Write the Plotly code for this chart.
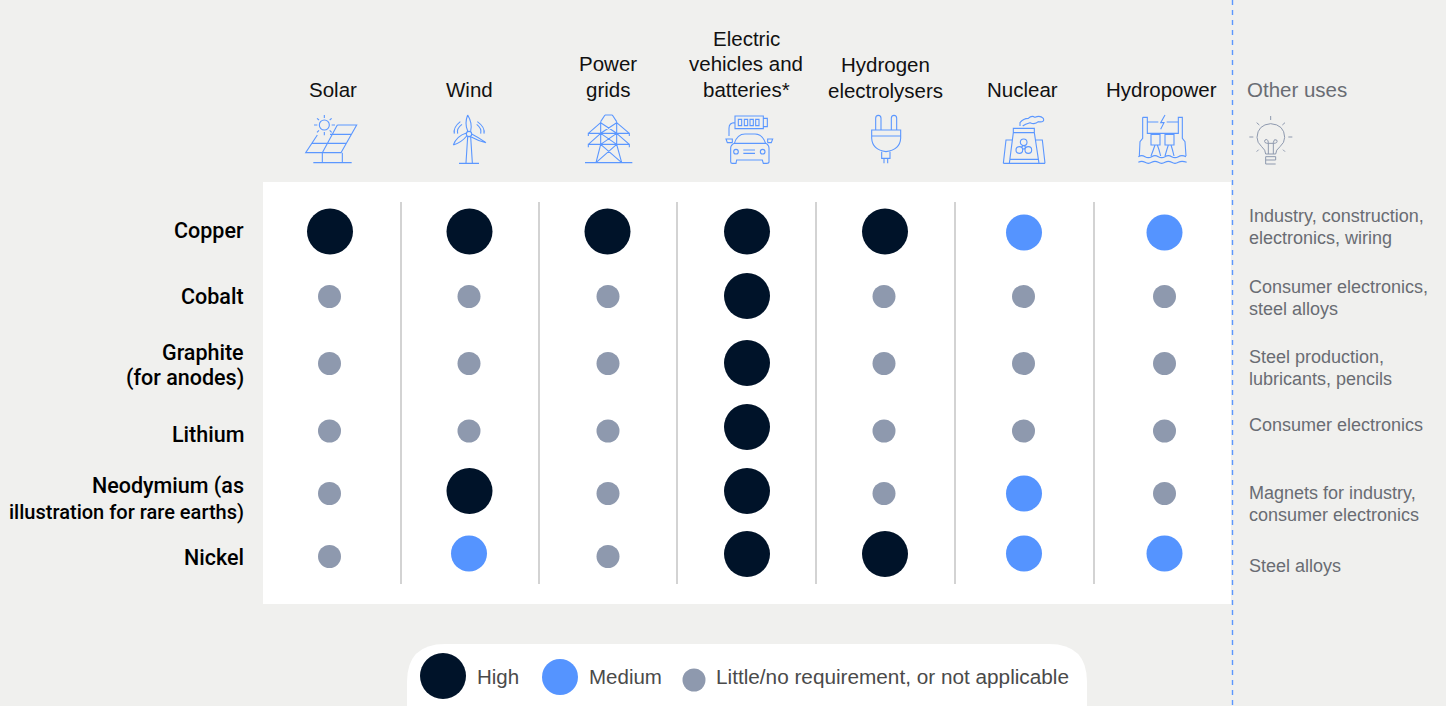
import re
import plotly.graph_objects as go

technologies = ["Solar", "Wind", "Power<br>grids", "Electric<br>vehicles and<br>batteries*",
                "Hydrogen<br>electrolysers", "Nuclear", "Hydropower"]
minerals = ["Copper", "Cobalt", "Graphite<br>(for anodes)", "Lithium",
            "Neodymium (as<br>illustration for rare earths)", "Nickel"]
other_uses = ["Industry, construction,<br>electronics, wiring",
              "Consumer electronics,<br>steel alloys",
              "Steel production,<br>lubricants, pencils",
              "Consumer electronics",
              "Magnets for industry,<br>consumer electronics",
              "Steel alloys"]
# 2 = High, 1 = Medium, 0 = Little/no requirement
copper = [2, 2, 2, 2, 2, 1, 1]
cobalt = [0, 0, 0, 2, 0, 0, 0]
graphite = [0, 0, 0, 2, 0, 0, 0]
lithium = [0, 0, 0, 2, 0, 0, 0]
neodymium = [0, 2, 0, 2, 0, 1, 0]
nickel = [0, 1, 0, 2, 2, 1, 1]
requirements = [copper, cobalt, graphite, lithium, neodymium, nickel]
level_names = ["Little/no requirement, or not applicable", "Medium", "High"]

# layout (pixel-space axes): column and row centres differ slightly per level in the source
W, H = 1446, 706
COL_X = {0: [329.5, 469, 608, 747, 884, 1023.5, 1164.5],
         1: [330, 469, 608, 747, 885, 1024, 1164.5],
         2: [330, 469.5, 607.5, 747, 885, 1024, 1164]}
ROW_Y = {0: [232, 296.5, 363.5, 431, 493.5, 556.5],
         1: [232.5, 296, 363, 429, 493.5, 553.5],
         2: [231.5, 296, 363, 427, 491, 554]}
HEAD_X = [333, 469, 608, 746, 885, 1022, 1161]
HEAD_LAST_Y = [89, 89, 89, 89, 90, 89, 89]
LABEL_Y = [230, 296, 352, 434, 486, 557]
USE_Y = [215.5, 286.5, 356.5, 424.5, 492.5, 565.5]
SEPARATORS = [401, 539, 677, 816, 955, 1094]
LEVEL_SIZE = {0: 23, 1: 36, 2: 46}
LEVEL_COLOR = {0: "#8E99AE", 1: "#5594FF", 2: "#001329"}
BG, BLUE, GREY = "#F0F0EE", "#5B97FF", "#8E99AE"
FONT = "Liberation Sans"
SOFT = "#696C73"

fig = go.Figure()
shapes, notes = [], []


def rect(x0, y0, x1, y1, fill):
    shapes.append(dict(type="rect", x0=x0, y0=y0, x1=x1, y1=y1, fillcolor=fill,
                       line=dict(width=0), layer="below"))


def text(x, y, s, size, color, anchor="center", weight=400, family=FONT):
    notes.append(dict(x=x, y=y, text=s, showarrow=False, xanchor=anchor, yanchor="middle",
                      font=dict(family=family, size=size, color=color, weight=weight)))


def circ(cx, cy, r):
    k = 0.5523 * r
    return (f"M{cx-r} {cy} C{cx-r} {cy-k} {cx-k} {cy-r} {cx} {cy-r} "
            f"C{cx+k} {cy-r} {cx+r} {cy-k} {cx+r} {cy} "
            f"C{cx+r} {cy+k} {cx+k} {cy+r} {cx} {cy+r} "
            f"C{cx-k} {cy+r} {cx-r} {cy+k} {cx-r} {cy} Z ")


def icon(ox, oy, d, color=BLUE, width=1.1):
    """d is drawn at 3x scale relative to origin (ox, oy)."""
    nums = iter(range(10**6))
    def conv(m):
        i = next(nums)
        v = float(m.group(0)) / 3
        return f"{v + (ox if i % 2 == 0 else oy):.2f}"
    path = re.sub(r"-?\d+\.?\d*", conv, d)
    shapes.append(dict(type="path", path=path, line=dict(color=color, width=width),
                       fillcolor="rgba(0,0,0,0)", layer="above"))


rect(263, 182, 1231, 604, "#FFFFFF")
shapes.append(dict(type="path", layer="below", fillcolor="#FFFFFF", line=dict(width=0),
                   path="M445 644 L1049 644 Q1087 644 1087 682 L1087 720 L407 720 L407 682 Q407 644 445 644 Z"))
for x in SEPARATORS:
    shapes.append(dict(type="line", x0=x, x1=x, y0=202, y1=584, layer="below",
                       line=dict(color="#C4C4C4", width=1.5)))
shapes.append(dict(type="line", x0=1232.5, x1=1232.5, y0=0, y1=706, layer="above",
                   line=dict(color=BLUE, width=1.4, dash="5px,5px")))

# icons
icon(280, 100, circ(133, 75, 15)
     + "M133 45 L133 54 M133 96 L133 106 M102 75 L112 75 M155 75 L165 75 M111 55 L117 60 M155 55 L149 60 "
       "M111 97 L117 91 M155 97 L149 91 "
       "M172 75 L230 75 L183 158 L77 158 L112 105 M172 75 L127 158 M150 103 L213 103 M95 130 L198 130 "
       "M127 158 L127 188 M187 158 L187 188 M100 188 L215 188")
icon(280, 100, circ(567, 102, 8)
     + "M563 110 L558 188 M572 110 L577 188 M537 190 L597 190 "
       "M563 45 Q578 70 572 93 M563 93 Q553 70 563 45 "
       "M520 135 Q530 108 559 99 M560 108 Q545 127 520 135 "
       "M618 128 Q595 112 575 102 M574 111 Q595 123 618 128 "
       "M523 101 Q519 82 541 65 M533 101 Q529 85 546 73 M612 101 Q616 82 592 65 M602 101 Q606 85 590 73")
icon(280, 100, "M915 188 L1057 188 M975 45 L997 45 M962 65 L975 45 M1010 65 L997 45 "
     "M962 65 L962 133 L948 188 M1010 65 L1010 133 L1025 188 M948 188 L1025 188 "
     "M925 108 L925 100 L1048 100 L1048 108 M925 100 L962 68 M1048 100 L1010 68 "
     "M925 142 L925 133 L1048 133 L1048 142 M925 133 L962 100 M1048 133 L1010 100 "
     "M962 68 L1010 100 M1010 68 L962 100 M962 100 L1010 133 M1010 100 L962 133 "
     "M962 133 L1025 188 M1010 133 L948 188")
icon(700, 100, "M105 48 L190 48 L190 86 L105 86 Z M190 55 L202 55 L202 80 L190 80 "
     "M115 58 L125 58 L125 77 L115 77 Z M133 58 L143 58 L143 77 L133 77 Z "
     "M150 58 L160 58 L160 77 L150 77 Z M167 58 L177 58 L177 77 L167 77 Z "
     "M87 108 L87 85 Q87 68 105 68 "
     "M103 130 Q112 102 135 102 L165 102 Q187 102 197 130 "
     "M92 145 Q92 135 103 130 L197 130 Q207 135 207 145 L207 185 Q207 190 200 190 L190 190 L187 180 "
     "L110 180 L108 190 L97 190 Q92 190 92 185 Z "
     "M97 128 L97 117 L78 117 L82 128 L97 128 M203 128 L203 117 L218 117 L214 128 L203 128 "
     "M130 150 L165 150 M130 160 L165 160 " + circ(108, 155, 7) + circ(188, 155, 7))
icon(700, 100, "M527 90 L527 55 Q527 46 535 46 Q543 46 543 55 L543 90 "
     "M574 90 L574 55 Q574 46 582 46 Q590 46 590 55 L590 90 "
     "M515 90 L602 90 L602 115 Q600 150 558 155 Q517 150 515 115 Z M515 108 L602 108 "
     "M545 155 L545 175 L570 175 L570 155 M552 175 L552 190 M563 175 L563 190")
icon(700, 100, "M940 85 L1003 85 L1003 98 L940 98 Z M940 98 L928 190 M1003 98 L1017 190 "
     "M910 190 L1035 190 M910 190 L918 120 L938 120 M1035 190 L1027 120 L1007 120 M928 178 L1017 178 "
     + circ(971, 127, 10) + circ(958, 150, 10) + circ(985, 150, 10) + circ(971, 142, 5)
     + "M960 78 L960 68 Q970 55 985 55 Q995 45 1005 52 Q1020 45 1030 55 Q1035 68 1015 65 "
       "Q1005 75 990 68 Q975 72 968 78")
icon(1100, 100, "M128 52 L142 52 L142 100 L235 100 L235 52 L247 52 L247 115 L255 125 L258 168 "
     "M128 52 L128 115 L120 125 L118 168 M142 66 L175 66 M200 66 L235 66 "
     "M195 45 L182 68 L192 68 L182 88 "
     "M153 103 L180 103 L180 135 L153 135 Z M195 103 L222 103 L222 135 L195 135 Z "
     "M165 135 Q160 150 153 168 M172 135 Q178 150 182 168 M205 135 Q200 150 195 168 M213 135 Q218 150 222 168 "
     "M115 170 Q125 164 135 170 Q145 176 155 170 Q165 164 175 170 Q185 176 195 170 Q205 164 215 170 "
     "Q225 176 235 170 Q245 164 258 170 "
     "M115 187 Q125 181 135 187 Q145 193 155 187 Q165 181 175 187 Q185 193 195 187 Q205 181 215 187 "
     "Q225 193 235 187 Q245 181 260 187")
icon(1100, 100, "M497 162 Q497 150 485 140 Q471 128 471 112 Q473 74 512 71 Q553 74 554 112 "
     "Q554 128 540 140 Q527 150 527 162 L497 162 "
     "M497 180 L527 180 M497 192 L527 192 M497 170 L527 170 L527 180 M497 170 L497 192 "
     "M505 162 L505 127 Q503 115 495 120 Q490 130 505 130 L520 130 Q535 130 530 120 Q522 115 520 127 L520 162 "
     "M512 48 L512 60 M470 68 L478 75 M555 68 L547 75 M448 111 L460 111 M565 111 L577 111 "
     "M470 155 L476 149 M555 155 L549 149", color=GREY, width=1)

# circles
for level in [0, 1, 2]:
    xs, ys = [], []
    for r, row in enumerate(requirements):
        for c, v in enumerate(row):
            if v == level:
                xs.append(COL_X[level][c])
                ys.append(ROW_Y[level][r])
    fig.add_trace(go.Scatter(x=xs, y=ys, mode="markers", name=level_names[level], showlegend=False,
                             marker=dict(size=LEVEL_SIZE[level], color=LEVEL_COLOR[level], line=dict(width=0))))
# legend key
for level, x, y in [(2, 443, 676), (1, 560, 677), (0, 694, 680)]:
    fig.add_trace(go.Scatter(x=[x], y=[y], mode="markers", showlegend=False, hoverinfo="skip",
                             marker=dict(size=LEVEL_SIZE[level], color=LEVEL_COLOR[level], line=dict(width=0))))
for x, level, size in [(475, 2, 20.5), (587, 1, 20.5), (714, 0, 20.75)]:
    text(x, 676, level_names[level], size, "#4A4A4A", "left")

# text
for i, t in enumerate(technologies):
    lines = t.split("<br>")
    for j, s in enumerate(lines):
        text(HEAD_X[i], HEAD_LAST_Y[i] - 25.5 * (len(lines) - 1 - j), s, 20.5, "#111111")
text(1245, 89.5, "Other uses", 20.5, SOFT, "left")
for i, t in enumerate(minerals):
    for j, s in enumerate(t.split("<br>")):
        size = 20.05 if len(s) > 20 else 21.5
        text(246, LABEL_Y[i] + 25.5 * j, s, size, "#000000", "right", 500, "Roboto")
for i, t in enumerate(other_uses):
    for j, s in enumerate(t.split("<br>")):
        text(1247, USE_Y[i] + 22.5 * j, s, 18, SOFT, "left")

fig.update_layout(width=W, height=H, margin=dict(l=0, r=0, t=0, b=0), paper_bgcolor=BG, plot_bgcolor=BG,
                  xaxis=dict(range=[0, W], visible=False, fixedrange=True),
                  yaxis=dict(range=[H, 0], visible=False, fixedrange=True),
                  shapes=shapes, annotations=notes, showlegend=False)
fig.write_html("out.html", post_script="document.body.style.margin='0';document.body.style.overflow='hidden';",
               config={"displayModeBar": False})
